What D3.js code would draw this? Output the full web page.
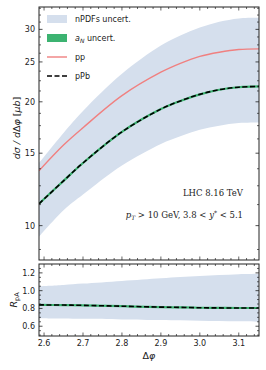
<!DOCTYPE html>
<html>
<head>
<meta charset="utf-8">
<script src="https://cdn.jsdelivr.net/npm/d3@7"></script>
<style>
  body { margin: 0; background: #fff; }
</style>
</head>
<body>
<svg id="chart"></svg>
<script>
// values
const dphi = [2.587, 2.65, 2.7, 2.8, 2.9, 2.95, 3.0, 3.05, 3.1, 3.152];
const ppVals = [13.6, 15.7, 17.3, 20.7, 23.6, 24.8, 25.8, 26.4, 26.8, 26.9];
const pPbVals = [11.3, 12.85, 14.2, 16.9, 19.2, 20.1, 20.85, 21.4, 21.7, 21.8];
const npdfUpper = [14.2, 16.8, 19.0, 23.4, 27.4, 29.0, 30.3, 31.3, 31.9, 32.0];
const npdfLower = [9.4, 10.9, 11.9, 14.0, 15.8, 16.5, 17.1, 17.5, 17.75, 17.8];

const rCentral = [0.84, 0.838, 0.835, 0.825, 0.815, 0.812, 0.808, 0.806, 0.805, 0.805];
const rUpper = [1.05, 1.065, 1.08, 1.11, 1.14, 1.155, 1.165, 1.175, 1.185, 1.19];
const rLower = [0.69, 0.686, 0.683, 0.677, 0.67, 0.666, 0.662, 0.658, 0.655, 0.65];

const xTicks = [2.6, 2.7, 2.8, 2.9, 3.0, 3.1];
const yTicksTop = [10, 15, 20, 25, 30];
const yTicksBot = [0.6, 0.8, 1.0, 1.2];

const svgWidth = 266, svgHeight = 370;
const left = 39, right = 259;
const top1 = 7, bot1 = 260, top2 = 264, bot2 = 336;

const colBand = "#d5dfed", colPP = "#f08080", colGreen = "#3cb371", colAxis = "#222";
const sans = "'DejaVu Sans', sans-serif", serif = "'DejaVu Serif', serif";

const svg = d3.select("#chart").attr("width", svgWidth).attr("height", svgHeight)
    .style("font-family", sans);

var xScale = d3.scaleLinear().domain([2.587, 3.152]).range([left, right]);
var yTop = d3.scaleLog().domain([8.25, 34]).range([bot1, top1]);
var yBot = d3.scaleLinear().domain([0.49, 1.3]).range([bot2, top2]);

const curve = d3.curveCatmullRom.alpha(0.5);

function idx(arr) { return arr.map((d, i) => i); }

function band(y, lo, hi) {
    return d3.area()
        .x(i => xScale(dphi[i]))
        .y0(i => y(lo[i]))
        .y1(i => y(hi[i]))
        .curve(curve)(idx(dphi));
}
function line(y, vals) {
    return d3.line()
        .x(i => xScale(dphi[i]))
        .y(i => y(vals[i]))
        .curve(curve)(idx(dphi));
}

// clip paths for both panels
const defs = svg.append("defs");
defs.append("clipPath").attr("id", "c1").append("rect")
    .attr("x", left).attr("y", top1).attr("width", right - left).attr("height", bot1 - top1);
defs.append("clipPath").attr("id", "c2").append("rect")
    .attr("x", left).attr("y", top2).attr("width", right - left).attr("height", bot2 - top2);

// ---- top panel
const p1 = svg.append("g").attr("clip-path", "url(#c1)");
p1.append("path").attr("d", band(yTop, npdfLower, npdfUpper)).attr("fill", colBand);
p1.append("path").attr("d", line(yTop, ppVals)).attr("fill", "none").attr("stroke", colPP).attr("stroke-width", 1.4);
p1.append("path").attr("d", line(yTop, pPbVals)).attr("fill", "none").attr("stroke", colGreen).attr("stroke-width", 2.2);
p1.append("path").attr("d", line(yTop, pPbVals)).attr("fill", "none").attr("stroke", "#000")
    .attr("stroke-width", 1.6).attr("stroke-dasharray", "5,2.5");

// ---- bottom panel
const p2 = svg.append("g").attr("clip-path", "url(#c2)");
p2.append("path").attr("d", band(yBot, rLower, rUpper)).attr("fill", colBand);
p2.append("path").attr("d", line(yBot, rCentral)).attr("fill", "none").attr("stroke", colGreen).attr("stroke-width", 2.2);
p2.append("path").attr("d", line(yBot, rCentral)).attr("fill", "none").attr("stroke", "#000")
    .attr("stroke-width", 1.6).attr("stroke-dasharray", "5,2.5");

// ---- axes (ticks inward on all sides)
function frame(yScale, yTop_, yBot_, yMajor, yMinor, xLabels, yFmt) {
    const g = svg.append("g");
    const xMinor = d3.range(2.6, 3.16, 0.02).filter(v => v <= 3.152);
    // x ticks bottom & top
    [[yBot_, -1], [yTop_, 1]].forEach(([yy, dir]) => {
        g.selectAll(null).data(xMinor).enter().append("line")
            .attr("x1", d => xScale(d)).attr("x2", d => xScale(d))
            .attr("y1", yy).attr("y2", d => yy + dir * (xTicks.some(t => Math.abs(t - d) < 1e-6) ? 3.5 : 2))
            .attr("stroke", colAxis).attr("stroke-width", 0.7);
    });
    // y ticks left & right
    [[left, 1], [right, -1]].forEach(([xx, dir]) => {
        g.selectAll(null).data(yMinor).enter().append("line")
            .attr("x1", xx).attr("x2", xx + dir * 2)
            .attr("y1", d => yScale(d)).attr("y2", d => yScale(d))
            .attr("stroke", colAxis).attr("stroke-width", 0.7);
        g.selectAll(null).data(yMajor).enter().append("line")
            .attr("x1", xx).attr("x2", xx + dir * 3.5)
            .attr("y1", d => yScale(d)).attr("y2", d => yScale(d))
            .attr("stroke", colAxis).attr("stroke-width", 0.8);
    });
    g.selectAll(null).data(yMajor).enter().append("text")
        .attr("x", left - 4).attr("y", d => yScale(d) + 3)
        .attr("text-anchor", "end").attr("font-size", 8).attr("fill", colAxis)
        .text(yFmt);
    if (xLabels) {
        g.selectAll(null).data(xTicks).enter().append("text")
            .attr("x", d => xScale(d)).attr("y", yBot_ + 10)
            .attr("text-anchor", "middle").attr("font-size", 8).attr("fill", colAxis)
            .text(d3.format(".1f"));
    }
    g.append("rect").attr("x", left).attr("y", yTop_).attr("width", right - left).attr("height", yBot_ - yTop_)
        .attr("fill", "none").attr("stroke", colAxis).attr("stroke-width", 1);
}

const topMinor = d3.range(8.75, 34, 1.25).filter(v => yTicksTop.indexOf(v) < 0);
frame(yTop, top1, bot1, yTicksTop, topMinor, false, d => d);
const botMinor = d3.range(0.5, 1.3, 0.05).filter(v => !yTicksBot.some(t => Math.abs(t - v) < 1e-6));
frame(yBot, top2, bot2, yTicksBot, botMinor, true, d3.format(".1f"));

// ---- legend
const leg = svg.append("g").attr("font-size", 8).attr("fill", colAxis);
const legendItems = [
    {type: "patch", color: colBand, y: 19, label: "nPDFs uncert."},
    {type: "patch", color: colGreen, y: 38, label: "aN"},
    {type: "line", color: colPP, y: 57, label: "pp"},
    {type: "dash", color: "#000", y: 76, label: "pPb"}
];
legendItems.forEach(it => {
    if (it.type == "patch") {
        leg.append("rect").attr("x", 47).attr("y", it.y - 4).attr("width", 20).attr("height", 8).attr("fill", it.color);
    } else {
        leg.append("line").attr("x1", 47).attr("x2", 67).attr("y1", it.y).attr("y2", it.y)
            .attr("stroke", it.color).attr("stroke-width", it.type == "dash" ? 1.6 : 1.4)
            .attr("stroke-dasharray", it.type == "dash" ? "5,2.5" : null);
    }
    const t = leg.append("text").attr("x", 75).attr("y", it.y + 3);
    if (it.label == "aN") {
        t.append("tspan").attr("font-style", "italic").text("a");
        t.append("tspan").attr("font-style", "italic").attr("font-size", 6).attr("dy", 1.5).text("N");
        t.append("tspan").attr("dy", -1.5).text(" uncert.");
    } else {
        t.text(it.label);
    }
});

// ---- annotations
svg.append("text").attr("x", 243).attr("y", 196).attr("text-anchor", "end")
    .style("font-family", serif).attr("font-size", 8.5).attr("fill", colAxis)
    .text("LHC 8.16 TeV");
const kin = svg.append("text").attr("x", 243).attr("y", 218).attr("text-anchor", "end")
    .style("font-family", serif).attr("font-size", 8.5).attr("fill", colAxis);
kin.append("tspan").attr("font-style", "italic").text("p");
kin.append("tspan").attr("font-style", "italic").attr("font-size", 6).attr("dy", 1.5).text("T");
kin.append("tspan").attr("dy", -1.5).text(" > 10 GeV, 3.8 < ");
kin.append("tspan").attr("font-style", "italic").text("y");
kin.append("tspan").attr("font-size", 6).attr("dy", -3).text("*");
kin.append("tspan").attr("dy", 3).text(" < 5.1");

// ---- axis labels
const yl = svg.append("text").attr("transform", "translate(20,128) rotate(-90)")
    .attr("text-anchor", "middle").attr("font-size", 9.5).attr("fill", colAxis);
yl.append("tspan").attr("font-style", "italic").text("dσ / d");
yl.append("tspan").text("Δ");
yl.append("tspan").attr("font-style", "italic").text("φ");
yl.append("tspan").text(" [");
yl.append("tspan").attr("font-style", "italic").text("μb");
yl.append("tspan").text("]");

const rl = svg.append("text").attr("transform", "translate(17,300) rotate(-90)")
    .attr("text-anchor", "middle").attr("font-size", 9.5).attr("fill", colAxis);
rl.append("tspan").attr("font-style", "italic").text("R");
rl.append("tspan").attr("font-size", 6.5).attr("dy", 2).text("pA");

const xl = svg.append("text").attr("x", 149).attr("y", 359)
    .attr("text-anchor", "middle").attr("font-size", 9.5).attr("fill", colAxis);
xl.append("tspan").text("Δ");
xl.append("tspan").attr("font-style", "italic").text("φ");
</script>
</body>
</html>
